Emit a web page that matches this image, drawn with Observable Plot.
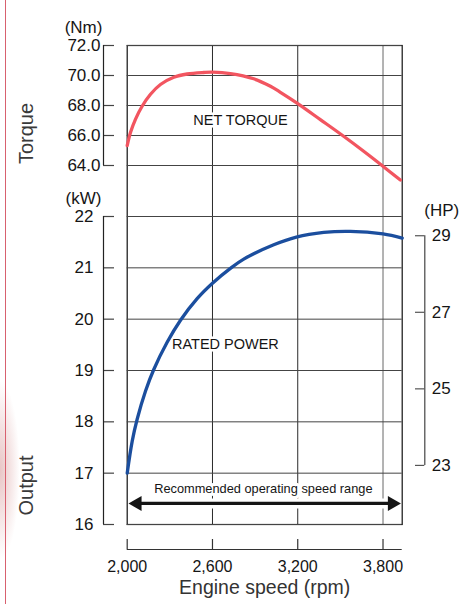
<!DOCTYPE html>
<html><head><meta charset="utf-8">
<script src="https://cdn.jsdelivr.net/npm/d3@7"></script>
<script src="https://cdn.jsdelivr.net/npm/@observablehq/plot@0.6"></script>
<style>
html,body{margin:0;padding:0;background:#fff;}
#wrap{position:relative;width:467px;height:604px;background:#fff;overflow:hidden;}
#wrap svg{position:absolute;left:0;top:0;}
#edge{position:absolute;left:5px;top:0;width:1.2px;height:604px;background:#d8616f;}
#blob{position:absolute;left:-20px;top:380px;width:40px;height:180px;background:radial-gradient(ellipse at center, rgba(214,150,150,0.55), rgba(255,255,255,0) 70%);}
</style>
</head><body>
<div id="wrap"><div id="blob"></div><div id="edge"></div></div>
<script>
// ---- data ----
const rpmTicks = [2000, 2600, 3200, 3800];
const torqueTicks = [64, 66, 68, 70, 72];
const kwTicks = [16, 17, 18, 19, 20, 21, 22];
const hpTicks = [23, 25, 27, 29];
const torqueRpm = [2000, 2023, 2058, 2105, 2164, 2234, 2328, 2422, 2539, 2600, 2726, 2890, 3008, 3078, 3195, 3359, 3523, 3664, 3793, 3922];
const torqueNm  = [65.33, 66.2, 67.08, 67.95, 68.75, 69.4, 69.88, 70.1, 70.2, 70.22, 70.13, 69.78, 69.28, 68.88, 68.16, 67.06, 65.95, 64.95, 64.0, 63.03];
const powerRpm = [2000, 2035, 2070, 2129, 2187, 2281, 2375, 2492, 2600, 2726, 2820, 3031, 3190, 3383, 3570, 3800, 3935];
const powerKw  = [17.0, 17.62, 18.05, 18.6, 19.02, 19.55, 19.98, 20.4, 20.7, 20.99, 21.17, 21.45, 21.6, 21.69, 21.71, 21.66, 21.58];
const rangeRpm = [2000, 3935];
const labels = {torque: "NET TORQUE", power: "RATED POWER", range: "Recommended operating speed range"};
const KW_PER_HP = 0.7457;

const torqueData = torqueRpm.map((r, i) => ({rpm: r, v: torqueNm[i]}));
const powerData = powerRpm.map((r, i) => ({rpm: r, v: powerKw[i]}));

const W = 467, H = 604;
const ML = 126.7, MR = W - 401.7;
const TOP_T = 45, BOT_T = H - 165;
const TOP_P = 216, BOT_P = H - 524;
const FONT = '"Liberation Sans", Arial, sans-serif';
const X = {domain: [2000, 3935], axis: null};
const ink = "#151515";
const wrap = document.getElementById("wrap");
function add(p){ wrap.appendChild(p); }
const base = {width: W, height: H, style: {background: "transparent", fontFamily: FONT, color: ink, overflow: "visible"}};

// grid frame + vertical lines
add(Plot.plot({...base, marginLeft: ML, marginRight: MR, marginTop: TOP_T, marginBottom: BOT_P,
  x: X, y: {axis: null, domain: [0, 1]},
  marks: [
    Plot.ruleX(rpmTicks.slice(1, 3), {stroke: "#2a2a2a", strokeWidth: 1}),
    Plot.ruleX(rpmTicks.slice(3), {stroke: "#8a8a8a", strokeWidth: 1.3}),
    Plot.frame({stroke: "#111", strokeWidth: 1.2})
  ]}));

// torque panel
add(Plot.plot({...base, marginLeft: ML, marginRight: MR, marginTop: TOP_T, marginBottom: BOT_T,
  x: X, y: {axis: null, domain: [64, 72]},
  marks: [
    Plot.ruleY(torqueTicks, {stroke: "#444", strokeWidth: 1}),
    Plot.text([{rpm: 2797, v: 67.0}], {x: "rpm", y: "v", text: () => labels.torque, fontSize: 14.5, fill: ink, stroke: "white", strokeWidth: 5, textAnchor: "middle", letterSpacing: "-0.3px"}),
    Plot.line(torqueData, {x: "rpm", y: "v", stroke: "#f25560", strokeWidth: 3.3, curve: "catmull-rom"})
  ]}));

// power panel
add(Plot.plot({...base, marginLeft: ML, marginRight: MR, marginTop: TOP_P, marginBottom: BOT_P,
  x: X, y: {axis: null, domain: [16, 22]},
  marks: [
    Plot.ruleY(kwTicks, {stroke: "#444", strokeWidth: 1}),
    Plot.text([{rpm: 2691, v: 19.51}], {x: "rpm", y: "v", text: () => labels.power, fontSize: 14.5, fill: ink, stroke: "white", strokeWidth: 5, textAnchor: "middle", letterSpacing: "-0.3px"}),
    Plot.line(powerData, {x: "rpm", y: "v", stroke: "#1b4e9e", strokeWidth: 3.3, curve: "catmull-rom"}),
    Plot.text([{rpm: 2958, v: 16.69}], {x: "rpm", y: "v", text: () => labels.range, fontSize: 12.8, fill: ink, stroke: "white", strokeWidth: 6, textAnchor: "middle"}),
    Plot.ruleY([16.41], {x1: rangeRpm[0], x2: rangeRpm[1], stroke: "white", strokeWidth: 10, insetLeft: 4, insetRight: 4}),
    Plot.ruleY([16.41], {x1: rangeRpm[0], x2: rangeRpm[1], stroke: ink, strokeWidth: 3.3, insetLeft: 8, insetRight: 8}),
    Plot.dot([{rpm: rangeRpm[0], v: 16.41}], {x: "rpm", y: "v", symbol: "triangle", r: 5.6, rotate: -90, fill: ink, stroke: null, dx: 10}),
    Plot.dot([{rpm: rangeRpm[1], v: 16.41}], {x: "rpm", y: "v", symbol: "triangle", r: 5.6, rotate: 90, fill: ink, stroke: null, dx: -10})
  ]}));

// left torque axis
add(Plot.plot({...base, marginLeft: 103, marginRight: W - 114, marginTop: TOP_T, marginBottom: BOT_T,
  x: {axis: null, domain: [0, 1]}, y: {axis: null, domain: [64, 72]},
  marks: [
    Plot.tickY(torqueTicks, {stroke: "#444", strokeWidth: 1.2}),
    Plot.ruleX([0], {stroke: "#222", strokeWidth: 1.2}),
    Plot.text(torqueTicks, {x: 0, y: d => d, text: d => d.toFixed(1), textAnchor: "end", dx: -3, fontSize: 17, fill: ink}),
    Plot.text(["(Nm)"], {frameAnchor: "top-left", dx: -20, dy: -25, fontSize: 17, fill: ink, textAnchor: "middle"}),
    Plot.text(["Torque"], {frameAnchor: "bottom-left", dx: -71, dy: -32, rotate: -90, fontSize: 20, fill: "#3a3a3a", textAnchor: "middle"})
  ]}));

// left kW axis
add(Plot.plot({...base, marginLeft: 103, marginRight: W - 114, marginTop: TOP_P, marginBottom: BOT_P,
  x: {axis: null, domain: [0, 1]}, y: {axis: null, domain: [16, 22]},
  marks: [
    Plot.tickY(kwTicks, {stroke: "#444", strokeWidth: 1.2}),
    Plot.ruleX([0], {stroke: "#222", strokeWidth: 1.2}),
    Plot.text(kwTicks, {x: 0, y: d => d, text: d => String(d), textAnchor: "end", dx: -10, fontSize: 17, fill: ink}),
    Plot.text(["(kW)"], {frameAnchor: "top-left", dx: -20, dy: -25, fontSize: 17, fill: ink, textAnchor: "middle"}),
    Plot.text(["Output"], {frameAnchor: "bottom-left", dx: -71, dy: -39, rotate: -90, fontSize: 20, fill: "#3a3a3a", textAnchor: "middle"})
  ]}));

// right HP axis
add(Plot.plot({...base, marginLeft: 415, marginRight: W - 424.3, marginTop: TOP_P, marginBottom: BOT_P,
  x: {axis: null, domain: [0, 1]}, y: {axis: null, domain: [16, 22]},
  marks: [
    Plot.tickY(hpTicks, {y: d => d * KW_PER_HP, stroke: "#555", strokeWidth: 1.2}),
    Plot.ruleX([1], {y1: hpTicks[0] * KW_PER_HP, y2: hpTicks[hpTicks.length - 1] * KW_PER_HP, stroke: "#444", strokeWidth: 1.2}),
    Plot.text(hpTicks, {x: 1, y: d => d * KW_PER_HP, text: d => String(d), textAnchor: "start", dx: 7, fontSize: 17, fill: ink}),
    Plot.text(["(HP)"], {x: 1, y: [hpTicks[hpTicks.length - 1] * KW_PER_HP], text: ["(HP)"], dx: 17, dy: -25, fontSize: 17, fill: ink, textAnchor: "middle"})
  ]}));

// x axis
add(Plot.plot({...base, marginLeft: ML, marginRight: MR, marginTop: 539, marginBottom: H - 549,
  x: X, y: {axis: null, domain: [0, 1]},
  marks: [
    Plot.tickX(rpmTicks, {stroke: "#333", strokeWidth: 1.2}),
    Plot.ruleY([0], {stroke: "#333", strokeWidth: 1.2}),
    Plot.text(rpmTicks, {x: d => d, y: 0, text: d => d3.format(",")(d), dy: 17, fontSize: 16, fill: ink}),
    Plot.text(["Engine speed (rpm)"], {frameAnchor: "bottom", dy: 44, fontSize: 19.5, fill: "#333"})
  ]}));
</script>
</body></html>
